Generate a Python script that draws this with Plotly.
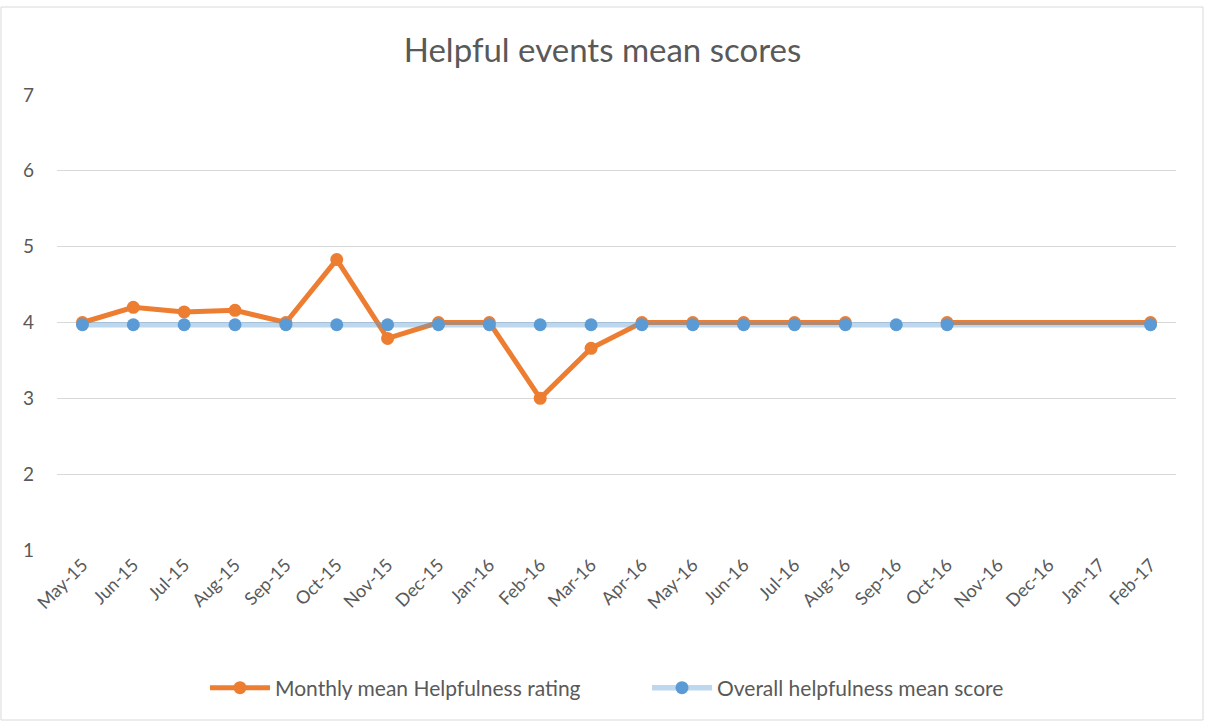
import plotly.graph_objects as go

months = ["May-15", "Jun-15", "Jul-15", "Aug-15", "Sep-15", "Oct-15", "Nov-15", "Dec-15",
          "Jan-16", "Feb-16", "Mar-16", "Apr-16", "May-16", "Jun-16", "Jul-16", "Aug-16",
          "Sep-16", "Oct-16", "Nov-16", "Dec-16", "Jan-17", "Feb-17"]

# data rows (Nov-16 .. Jan-17 have no rows)
data_months = ["May-15", "Jun-15", "Jul-15", "Aug-15", "Sep-15", "Oct-15", "Nov-15", "Dec-15",
               "Jan-16", "Feb-16", "Mar-16", "Apr-16", "May-16", "Jun-16", "Jul-16", "Aug-16",
               "Sep-16", "Oct-16", "Feb-17"]
monthly_mean = [4.0, 4.2, 4.14, 4.16, 4.0, 4.83, 3.79, 4.0,
                4.0, 3.0, 3.66, 4.0, 4.0, 4.0, 4.0, 4.0,
                None, 4.0, 4.0]
overall_mean = [3.97] * len(data_months)

font = "Lato, 'Open Sans', sans-serif"
grey = "#595959"

fig = go.Figure()
fig.add_trace(go.Scatter(
    x=data_months, y=monthly_mean, name="Monthly mean Helpfulness rating",
    mode="lines+markers", connectgaps=False,
    line=dict(color="#ED7D31", width=5),
    marker=dict(color="#ED7D31", size=13),
))
fig.add_trace(go.Scatter(
    x=data_months, y=overall_mean, name="Overall helpfulness mean score",
    mode="lines+markers",
    line=dict(color="rgba(91,155,213,0.4)", width=5.5),
    marker=dict(color="#5B9BD5", size=13),
))

W, H = 1205, 722
l, r, t, b = 57, 29, 95, 172
pw, ph = W - l - r, H - t - b

fig.update_layout(
    width=W, height=H,
    margin=dict(l=l, r=r, t=t, b=b),
    paper_bgcolor="white", plot_bgcolor="white",
    title=dict(text="Helpful events mean scores", x=0.5, xanchor="center",
               y=1 - 50 / H, yanchor="middle",
               font=dict(family=font, size=33, color=grey)),
    font=dict(family=font, size=18, color=grey),
    xaxis=dict(type="category", categoryorder="array", categoryarray=months,
               range=[-0.5, len(months) - 0.5], tickangle=-45,
               showgrid=False, showline=False, zeroline=False,
               tickfont=dict(size=18, color=grey), ticks=""),
    yaxis=dict(range=[1, 7], dtick=1, tick0=1, showgrid=True, gridcolor="#D9D9D9",
               gridwidth=1, zeroline=False, showline=False,
               tickfont=dict(size=19, color=grey), ticks="", ticklabelstandoff=22),
    legend=dict(orientation="h", xanchor="left", x=(205 - l) / pw, y=-(688 - 550) / ph,
                yanchor="middle", font=dict(size=21, color=grey),
                entrywidth=367, entrywidthmode="pixels", itemwidth=60, tracegroupgap=0),
    showlegend=True,
)

# chart border
fig.add_shape(type="rect", xref="paper", yref="paper",
              x0=(1 - l) / pw, x1=(W - 2 - l) / pw,
              y0=-(H - 2 - (H - b)) / ph, y1=1 + (t - 7) / ph,
              line=dict(color="#D9D9D9", width=1))

fig.write_html("out.html", config={"displayModeBar": False},
               post_script="document.body.style.margin='0';document.body.style.overflow='hidden';")
